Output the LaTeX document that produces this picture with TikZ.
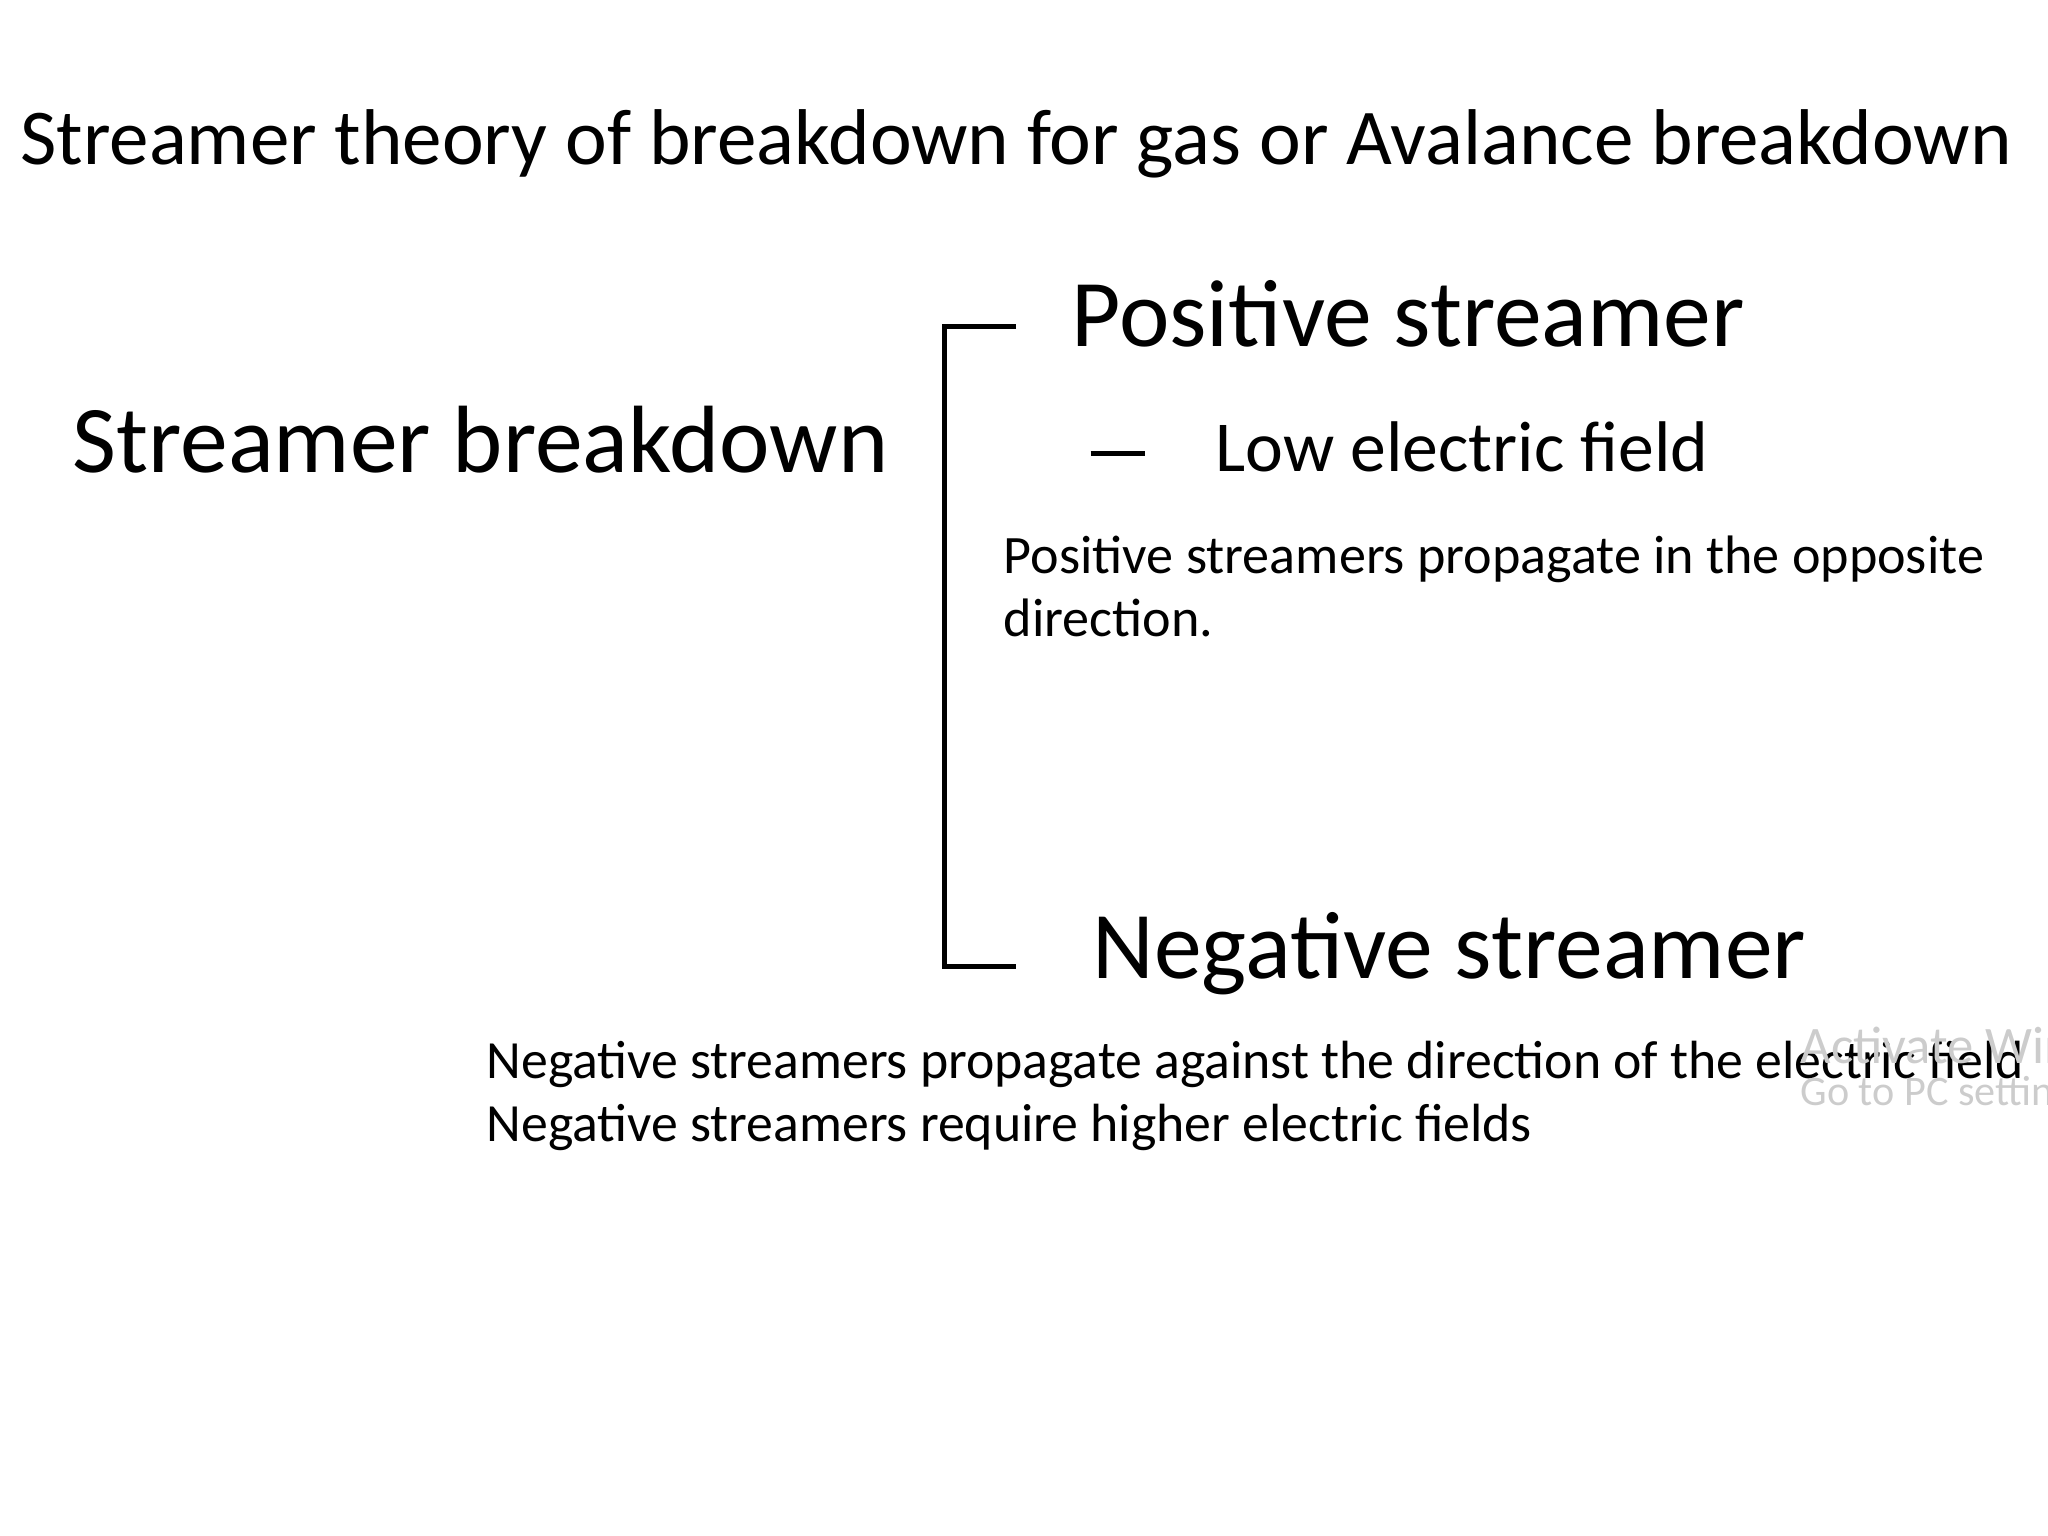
\documentclass[tikz,border=0pt]{standalone}
\usepackage{fontspec}
\setmainfont{Carlito}
\begin{document}
\begin{tikzpicture}[x=0.01306cm,y=-0.01306cm,
  txt/.style={anchor=west,inner sep=0pt,text=black},
  brk/.style={line width=1.3pt,black}]
\useasboundingbox (0,0) rectangle (1568,1176);
\node[txt,font=\fontsize{22.5}{27}\selectfont] (title) at (15,110) {Streamer theory of breakdown for gas or Avalance breakdown};
\node[txt,font=\fontsize{27.2}{32}\selectfont] (sb) at (55,337) {Streamer breakdown};
\coordinate (t1) at (778,250);
\coordinate (t0) at (723,250);
\coordinate (b0) at (723,740);
\coordinate (b1) at (778,740);
\draw[brk] (t1) -- (t0) -- (b0) -- (b1);
\node[txt,font=\fontsize{27.2}{32}\selectfont] (ps) at (820,240) {Positive streamer};
\coordinate (d0) at (835,347);
\coordinate (d1) at (877,347);
\draw[brk] (d0) -- (d1);
\node[txt,font=\fontsize{20.4}{24}\selectfont] (low) at (930,342) {Low electric field};
\node[txt,font=\fontsize{15.4}{18}\selectfont,align=left] (pdesc) at (768,449) {Positive streamers propagate in the opposite\\direction.};
\node[txt,font=\fontsize{27.2}{32}\selectfont] (ns) at (836,730) {Negative streamer};
\node[txt,font=\fontsize{15.3}{18}\selectfont,align=left] (ndesc) at (372,839) {Negative streamers propagate against the direction of the electric field\\Negative streamers require higher electric fields};
\begin{scope}
\clip (0,0) rectangle (1568,1176);
\node[txt,font=\fontsize{15}{18}\selectfont,text=black!20] (wm1) at (1378,800) {Activate Windows};
\node[txt,font=\fontsize{12}{14}\selectfont,text=black!20] (wm2) at (1378,838) {Go to PC settings to activate Windows.};
\end{scope}
\end{tikzpicture}
\end{document}
